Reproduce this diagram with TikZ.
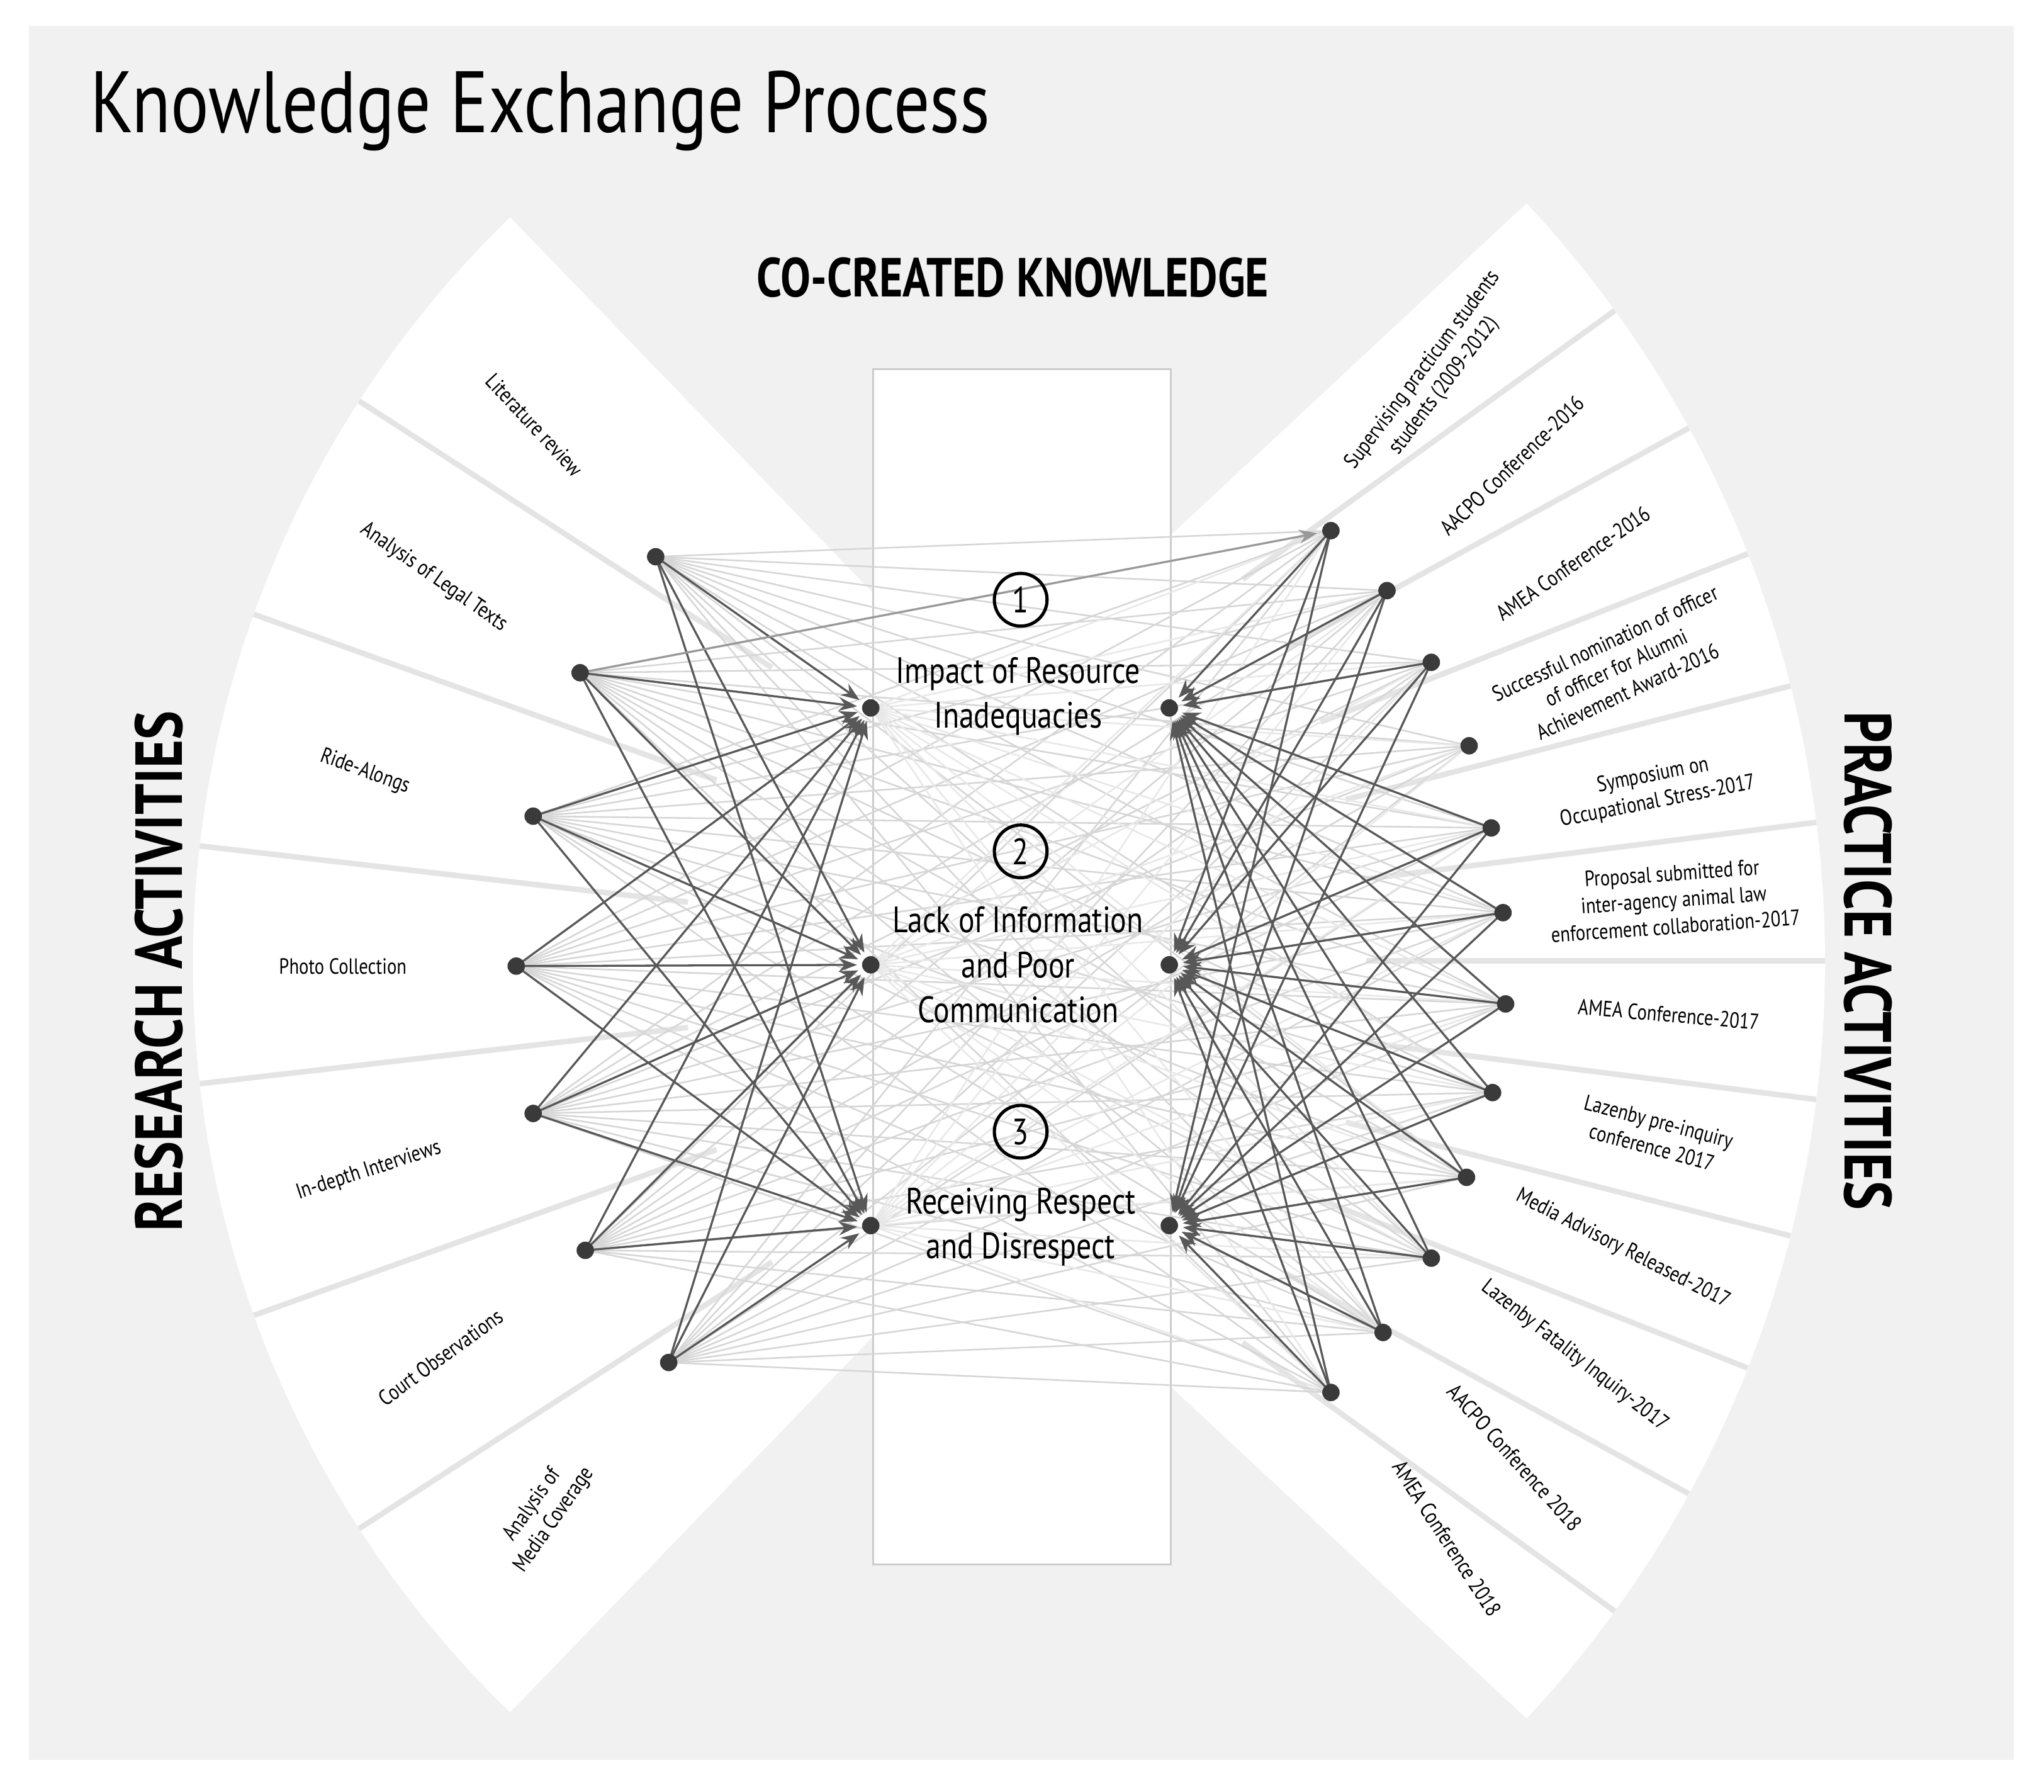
\documentclass[tikz,border=0pt]{standalone}
\usepackage{fontspec}
\setmainfont{PT Sans}[FakeStretch=0.82]
\usetikzlibrary{arrows.meta,calc}
\definecolor{bg}{HTML}{F1F1F1}
\definecolor{sep}{HTML}{E4E4E4}
\definecolor{dk}{HTML}{3A3A3A}
\begin{document}
\begin{tikzpicture}[x=0.01cm,y=-0.01cm,
  dot/.style={circle,fill=dk,inner sep=0pt,minimum size=3.8pt},
  arr/.style={draw=dk!85,line width=0.45pt,-{Stealth[length=4pt,width=3pt]},shorten >=3pt,shorten <=1pt},
  faint/.style={draw=black!16,line width=0.35pt},
  lab/.style={font=\fontsize{4.8}{5.8}\selectfont,align=center,inner sep=0pt},
  mid/.style={font=\fontsize{8}{9.8}\selectfont,align=center},
  num/.style={circle,draw=black,line width=0.7pt,minimum size=11.5pt,inner sep=0pt,font=\fontsize{8}{9}\selectfont},
  side/.style={font=\fontsize{14.5}{14.5}\selectfont\bfseries}]
\useasboundingbox (0,0) rectangle (1568,1374);
\fill[white] (0,0) rectangle (1568,1374);
\fill[bg] (22,20) rectangle (1545,1350);
\coordinate (cl) at (945,740);
\coordinate (cr) at (548,737);
% wedges
\fill[white] (cl) -- ++(134:797) arc[start angle=134,end angle=226,radius=797] -- cycle;
\fill[white] (cr) -- ++(-43:852) arc[start angle=-43,end angle=43,radius=852] -- cycle;
\foreach \k in {1,...,6}{
  \draw[sep,line width=1.2pt] ($(cl)+(134+13.143*\k:420)$) -- ($(cl)+(134+13.143*\k:797)$);}
\foreach \k in {1,...,11}{
  \draw[sep,line width=1.2pt] ($(cr)+(-43+7.1667*\k:500)$) -- ($(cr)+(-43+7.1667*\k:852)$);}
% centre column
\draw[black!20,fill=white] (670,283) rectangle (898,1200);
% titles
\node[anchor=west,font=\fontsize{19}{19}\selectfont] (title) at (57,85) {Knowledge Exchange Process};
\node[font=\fontsize{12}{12}\selectfont\bfseries] (cck) at (777,213) {CO-CREATED KNOWLEDGE};
\node[side,rotate=90] (ra) at (122,745) {RESEARCH ACTIVITIES};
\node[side,rotate=-90] (pa) at (1433,737) {PRACTICE ACTIVITIES};
% dots
\foreach \n/\x/\y in {L1/503/427,L2/445/516,L3/409/626,L4/396/741,L5/409/854,L6/449/959,L7/513/1045,
  TL1/668/543,TL2/668/740,TL3/668/940,TR1/897/543,TR2/897/740,TR3/897/940,
  R1/1021/407,R2/1064/453,R3/1098/508,R4/1127/572,R5/1144/635,R6/1153/700,R7/1155/770,
  R8/1145/838,R9/1125/903,R10/1098/965,R11/1061/1022,R12/1021/1068}
  \coordinate (\n) at (\x,\y);
% faint lines
\foreach \i in {1,...,7}{\foreach \k in {1,...,12}{\draw[faint] (L\i) -- (R\k);}}
\foreach \j in {1,2,3}{\foreach \k in {1,...,12}{\draw[faint,draw=black!9] (TL\j) -- (R\k);}}
% dark arrows
\foreach \i in {1,...,7}{\foreach \j in {1,2,3}{\draw[arr] (L\i) -- (TL\j);}}
\foreach \k in {1,2,3,5,6,7,8,9,10,11,12}{\foreach \j in {1,2,3}{\draw[arr] (R\k) -- (TR\j);}}
\draw[arr,draw=black!40] (L2) -- (R1);
\foreach \n in {L1,L2,L3,L4,L5,L6,L7,TL1,TL2,TL3,TR1,TR2,TR3,R1,R2,R3,R4,R5,R6,R7,R8,R9,R10,R11,R12}
  \node[dot] at (\n) {};
% numbers and centre texts
\node[num] (n1) at (783,460) {1};
\node[num] (n2) at (783,653) {2};
\node[num] (n3) at (783,868) {3};
\node[mid] (t1) at (781,534) {Impact of Resource\\Inadequacies};
\node[mid] (t2) at (781,740) {Lack of Information\\and Poor\\Communication};
\node[mid] (t3) at (783,941) {Receiving Respect\\and Disrespect};
% left labels
\node[lab,rotate=-47] at (410,326) {Literature review};
\node[lab,rotate=-35] at (333,443) {Analysis of Legal Texts};
\node[lab,rotate=-20] at (280,592) {Ride-Alongs};
\node[lab] at (263,741) {Photo Collection};
\node[lab,rotate=18] at (283,898) {In-depth Interviews};
\node[lab,rotate=36] at (338,1041) {Court Observations};
\node[lab,rotate=55] at (417,1160) {Analysis of\\Media Coverage};
% right labels
\node[lab,rotate=53] at (1100,290) {Supervising practicum students\\students (2009-2012)};
\node[lab,rotate=44] at (1160,357) {AACPO Conference-2016};
\node[lab,rotate=35] at (1207,432) {AMEA Conference-2016};
\node[lab,rotate=25] at (1240,512) {Successful nomination of officer\\of officer for Alumni\\Achievement Award-2016};
\node[lab,rotate=11] at (1270,605) {Symposium on\\Occupational Stress-2017};
\node[lab,rotate=4] at (1284,690) {Proposal submitted for\\inter-agency animal law\\enforcement collaboration-2017};
\node[lab,rotate=-5] at (1280,778) {AMEA Conference-2017};
\node[lab,rotate=-15] at (1270,870) {Lazenby pre-inquiry\\conference 2017};
\node[lab,rotate=-27] at (1245,958) {Media Advisory Released-2017};
\node[lab,rotate=-38] at (1208,1040) {Lazenby Fatality Inquiry-2017};
\node[lab,rotate=-48] at (1162,1118) {AACPO Conference 2018};
\node[lab,rotate=-57] at (1110,1180) {AMEA Conference 2018};
\end{tikzpicture}
\end{document}
